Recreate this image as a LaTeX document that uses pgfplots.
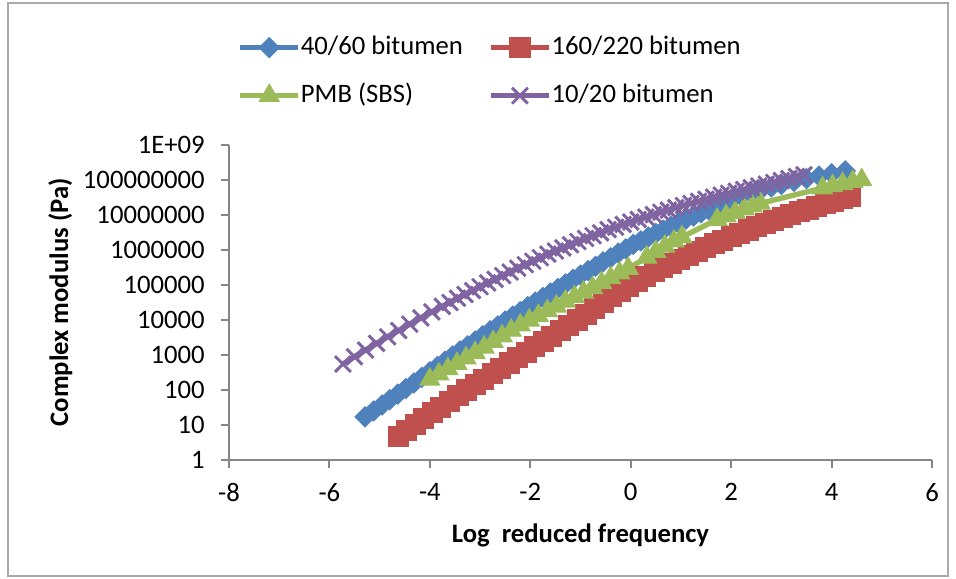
\documentclass[border=0pt]{standalone}
\usepackage{pgfplots}
\pgfplotsset{compat=1.18}
\usepackage{fontspec}
\setmainfont{Carlito}
\definecolor{s1}{HTML}{4F81BD}
\definecolor{s2}{HTML}{C0504D}
\definecolor{s3}{HTML}{9BBB59}
\definecolor{s4}{HTML}{8064A2}
\definecolor{axgray}{HTML}{868686}
\begin{document}
\begin{tikzpicture}
\begin{axis}[
  width=263.625pt, height=118.125pt, scale only axis,
  xmin=-8, xmax=6, ymin=0, ymax=9,
  clip=false,
  axis x line=bottom, axis y line=left,
  axis line style={-, color=axgray, line width=0.75pt},
  tick align=outside, major tick length=3pt,
  tick style={color=axgray, line width=0.75pt},
  xtick={-8,-6,-4,-2,0,2,4,6},
  xticklabels={-8,-6,-4,-2,0,2,4,6},
  ytick={0,1,2,3,4,5,6,7,8,9},
  yticklabels={1,10,100,1000,10000,100000,1000000,10000000,100000000,1E+09},
  ticklabel style={font=\fontsize{10}{12}\selectfont, text=black},
  xticklabel style={yshift=-2.2pt},
  yticklabel style={xshift=-2.6pt},
  every axis x label/.style={at={(axis description cs:0.5,-0.238)}, anchor=center, font=\bfseries},
  every axis y label/.style={at={(axis description cs:-0.240,0.5)}, anchor=center, rotate=90, font=\bfseries},
  xlabel={Log\ \ reduced frequency},
  ylabel={Complex modulus (Pa)},
  legend columns=2,
  legend cell align=left,
  legend style={at={(0.0115,1.353)}, anchor=north west, draw=none, fill=none,
    inner sep=0pt, row sep=8pt, font=\fontsize{10}{12}\selectfont,
    nodes={inner sep=0pt, text height=7.5pt, text depth=2.5pt},
    /tikz/every even column/.append style={column sep=9.5pt}},
  legend image code/.code={\draw[mark repeat=2,mark phase=2,#1] plot coordinates {(0pt,0pt) (10.875pt,0pt) (21.75pt,0pt)};},
]
% 40/60 bitumen (x = log reduced frequency, y = log10 complex modulus)
\addplot[color=s1, line width=2pt, mark=square*, mark size=2.65pt, mark options={rotate=45, line width=0.4pt, fill=s1, draw=s1}] table {
x y
-5.29 1.23
-5.12 1.40
-4.95 1.57
-4.80 1.72
-4.64 1.88
-4.48 2.04
-4.32 2.20
-4.16 2.36
-4.00 2.52
-3.85 2.67
-3.70 2.82
-3.55 2.97
-3.40 3.12
-3.25 3.26
-3.10 3.40
-2.95 3.55
-2.80 3.69
-2.65 3.83
-2.50 3.97
-2.35 4.11
-2.20 4.24
-2.05 4.38
-1.90 4.51
-1.75 4.64
-1.60 4.77
-1.45 4.90
-1.30 5.03
-1.15 5.16
-1.00 5.28
-0.85 5.41
-0.70 5.53
-0.55 5.66
-0.40 5.78
-0.25 5.91
-0.10 6.03
0.05 6.16
0.20 6.26
0.35 6.37
0.50 6.47
0.65 6.57
0.80 6.68
0.95 6.78
1.10 6.88
1.25 6.97
1.40 7.06
1.55 7.15
1.70 7.25
1.85 7.34
2.00 7.43
2.20 7.54
2.40 7.64
2.60 7.73
2.80 7.80
3.00 7.87
3.25 7.96
3.50 8.04
3.75 8.11
4.00 8.18
4.27 8.26
};
\addlegendentry{40/60 bitumen}
% 160/220 bitumen
\addplot[color=s2, line width=2pt, mark=square*, mark size=3.75pt, mark options={line width=0.4pt, fill=s2, draw=s2}] table {
x y
-4.63 0.66
-4.46 0.84
-4.29 1.01
-4.12 1.18
-3.95 1.35
-3.78 1.51
-3.61 1.67
-3.44 1.84
-3.27 2.00
-3.10 2.16
-2.93 2.31
-2.76 2.47
-2.59 2.62
-2.42 2.77
-2.25 2.92
-2.08 3.08
-1.91 3.23
-1.74 3.38
-1.57 3.54
-1.40 3.69
-1.23 3.84
-1.06 4.00
-0.89 4.16
-0.72 4.33
-0.55 4.50
-0.38 4.66
-0.21 4.81
-0.04 4.96
0.13 5.10
0.30 5.24
0.47 5.38
0.64 5.50
0.81 5.62
0.98 5.74
1.15 5.85
1.32 5.96
1.49 6.07
1.66 6.18
1.83 6.28
2.00 6.38
2.17 6.48
2.34 6.57
2.51 6.66
2.68 6.75
2.85 6.84
3.02 6.93
3.19 7.01
3.36 7.09
3.53 7.16
3.70 7.24
3.87 7.32
4.04 7.40
4.21 7.47
4.38 7.54
};
\addlegendentry{160/220 bitumen}
% PMB (SBS)
\addplot[color=s3, line width=2pt, mark=triangle*, mark size=4.3pt, mark options={line width=0.4pt, fill=s3, draw=s3}] table {
x y
-4.00 2.30
-3.82 2.45
-3.64 2.60
-3.46 2.75
-3.28 2.91
-3.10 3.06
-2.92 3.22
-2.74 3.38
-2.56 3.54
-2.38 3.70
-2.20 3.85
-2.02 3.99
-1.84 4.12
-1.66 4.26
-1.48 4.39
-1.30 4.53
-1.12 4.66
-0.94 4.79
-0.76 4.92
-0.58 5.06
-0.40 5.20
-0.22 5.34
-0.05 5.47
0.32 5.79
0.50 5.95
0.68 6.10
0.86 6.25
1.02 6.37
1.72 6.87
1.90 6.97
2.08 7.07
2.26 7.17
2.42 7.25
2.58 7.33
3.82 7.77
4.02 7.83
4.22 7.89
4.42 7.95
4.60 8.00
};
\addlegendentry{PMB (SBS)}
% 10/20 bitumen
\addplot[color=s4, line width=2pt, mark=x, mark size=4.2pt, mark options={line width=1.1pt, draw=s4}] table {
x y
-5.73 2.74
-5.50 2.95
-5.28 3.14
-5.06 3.33
-4.84 3.52
-4.62 3.70
-4.40 3.88
-4.18 4.06
-3.96 4.23
-3.75 4.39
-3.60 4.50
-3.45 4.62
-3.30 4.73
-3.15 4.84
-3.00 4.95
-2.85 5.06
-2.70 5.16
-2.55 5.27
-2.40 5.37
-2.25 5.48
-2.10 5.58
-1.95 5.68
-1.80 5.78
-1.65 5.88
-1.50 5.97
-1.35 6.06
-1.20 6.15
-1.05 6.24
-0.90 6.33
-0.75 6.41
-0.60 6.49
-0.45 6.58
-0.30 6.65
-0.15 6.73
0.00 6.80
0.15 6.87
0.30 6.94
0.45 7.01
0.60 7.08
0.75 7.14
0.90 7.21
1.05 7.27
1.20 7.33
1.35 7.39
1.50 7.45
1.65 7.51
1.80 7.57
1.95 7.62
2.10 7.68
2.25 7.73
2.40 7.78
2.55 7.83
2.70 7.88
2.85 7.93
3.00 7.98
3.15 8.04
3.30 8.10
3.45 8.15
};
\addlegendentry{10/20 bitumen}
\draw[axgray!70, line width=0.75pt] (axis description cs:-0.3144,1.4508) rectangle (axis description cs:1.0228,-0.3683);
\coordinate (bbA) at (axis description cs:-0.3257,1.4603);
\coordinate (bbB) at (axis description cs:1.0341,-0.3778);
\end{axis}
\pgfresetboundingbox
\path[use as bounding box] (bbA) rectangle (bbB);
\end{tikzpicture}
\end{document}
